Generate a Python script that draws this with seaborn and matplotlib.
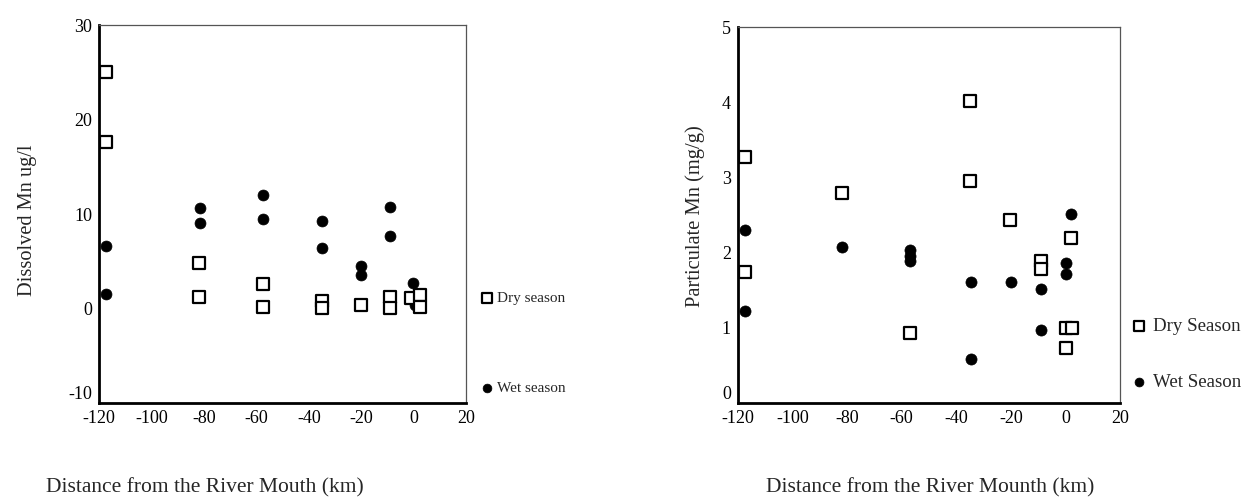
import matplotlib
matplotlib.use("Agg")
import matplotlib.pyplot as plt
import seaborn as sns
import pandas as pd

# ---- data: Dissolved Mn (left panel) ----
diss_dry_x = [-117.5, -117.5, -81.8, -81.8, -57.5, -57.5, -34.8, -34.8, -20.1, -9.0, -9.0, -0.9, 2.5, 2.5]
diss_dry_y = [25.1, 17.6, 4.8, 1.2, 2.55, 0.2, 0.8, 0.0, 0.4, 1.2, 0.05, 1.05, 1.4, 0.2]
diss_wet_x = [-117.4, -117.4, -81.6, -81.6, -57.5, -57.5, -34.8, -34.8, -20.1, -20.1, -9.0, -9.0, -0.2, 0.4, 1.5, 2.5]
diss_wet_y = [6.65, 1.5, 10.6, 9.1, 12.0, 9.5, 9.3, 6.4, 4.5, 3.55, 10.75, 7.7, 2.65, 0.4, 0.9, 1.4]

# ---- data: Particulate Mn (right panel) ----
part_dry_x = [-117.5, -117.5, -81.7, -57.0, -35.0, -35.0, -20.2, -8.9, -8.9, 0.3, 2.6, 0.3, 2.2]
part_dry_y = [3.27, 1.74, 2.80, 0.935, 4.02, 2.95, 2.435, 1.89, 1.78, 0.99, 1.0, 0.735, 2.2]
part_wet_x = [-117.5, -117.5, -81.7, -57.0, -57.0, -57.0, -34.7, -34.7, -20.0, -8.9, -8.9, 0.3, 0.3, 2.2, 2.2]
part_wet_y = [2.30, 1.22, 2.08, 2.03, 1.95, 1.89, 1.61, 0.58, 1.61, 1.52, 0.97, 1.86, 1.72, 2.52, 2.21]

x_ticks = [-120, -100, -80, -60, -40, -20, 0, 20]
left_yticks = [-10, 0, 10, 20, 30]
right_yticks = [0, 1, 2, 3, 4, 5]

left_labels = ["Dry season", "Wet season"]
right_labels = ["Dry Season", "Wet Season"]

sns.set_style("white")
plt.rcParams["font.family"] = ["Liberation Serif", "DejaVu Serif"]

fig = plt.figure(figsize=(12.55, 5.01), dpi=100)
W, H = 1255, 501


def make_ax(x0, x1, y0, y1):
    return fig.add_axes([x0 / W, 1 - y1 / H, (x1 - x0) / W, (y1 - y0) / H])


axL = make_ax(99.3, 466, 25.5, 402.7)
axR = make_ax(737.7, 1120, 27.5, 402.7)


def build(dx, dy, wx, wy, labels):
    return pd.DataFrame({
        "x": list(dx) + list(wx),
        "y": list(dy) + list(wy),
        "season": [labels[0]] * len(dx) + [labels[1]] * len(wx),
    })


def draw(ax, df, labels, sq_size, c_size):
    dry = df[df.season == labels[0]]
    wet = df[df.season == labels[1]]
    sns.scatterplot(data=wet, x="x", y="y", ax=ax, marker="o", s=c_size,
                    color="black", edgecolor="black", linewidth=0.5,
                    label=labels[1], zorder=3)
    sns.scatterplot(data=dry, x="x", y="y", ax=ax, marker="s", s=sq_size,
                    facecolor="white", edgecolor="black", linewidth=1.6,
                    label=labels[0], zorder=4)


dfL = build(diss_dry_x, diss_dry_y, diss_wet_x, diss_wet_y, left_labels)
dfR = build(part_dry_x, part_dry_y, part_wet_x, part_wet_y, right_labels)

draw(axL, dfL, left_labels, 70, 62)
draw(axR, dfR, right_labels, 78, 64)

for ax, yt, ylim in [(axL, left_yticks, (-10, 30)), (axR, right_yticks, (0, 5))]:
    ax.set_xlim(-120, 20)
    ax.set_ylim(*ylim)
    ax.set_xticks(x_ticks)
    ax.set_yticks(yt)
    ax.set_xticklabels([str(v) for v in x_ticks])
    ax.set_yticklabels([str(v) for v in yt])
    ax.tick_params(axis="both", direction="inout", length=4, width=1.5,
                   labelsize=13, color="black", labelcolor="black", pad=3)
    for s in ["left", "bottom"]:
        ax.spines[s].set_linewidth(2.0)
        ax.spines[s].set_color("black")
    for s in ["top", "right"]:
        ax.spines[s].set_linewidth(0.9)
        ax.spines[s].set_color("#555555")
    # lowest y tick label sits above its tick, as in the reference
    ylabs = ax.get_yticklabels()
    ylabs[0].set_verticalalignment("bottom")

axL.set_xlabel("Distance from the River Mouth (km)", fontsize=15.5)
axL.xaxis.set_label_coords(0.288, -0.20)
axL.set_ylabel("Dissolved Mn ug/l", fontsize=14.7)
axL.yaxis.set_label_coords(-0.17, 0.484)

axR.set_xlabel("Distance from the River Mounth (km)", fontsize=15.5)
axR.xaxis.set_label_coords(0.503, -0.20)
axR.set_ylabel("Particulate Mn (mg/g)", fontsize=14.8)
axR.yaxis.set_label_coords(-0.085, 0.497)

# legends
for ax, labels, anchor, fs, spacing in [
    (axL, left_labels, (479 / W, 1 - 291 / H), 11, 5.0),
    (axR, right_labels, (1130 / W, 1 - 318 / H), 13.6, 2.05),
]:
    handles, labs = ax.get_legend_handles_labels()
    order = [labs.index(labels[0]), labs.index(labels[1])]
    ax.legend([handles[i] for i in order], [labs[i] for i in order],
              loc="upper left", bbox_to_anchor=anchor,
              bbox_transform=fig.transFigure, frameon=False,
              fontsize=fs, labelspacing=spacing, handletextpad=0.2,
              handlelength=1.0, borderpad=0, borderaxespad=0,
              markerscale=0.8)

fig.savefig("out.png", dpi=100)
